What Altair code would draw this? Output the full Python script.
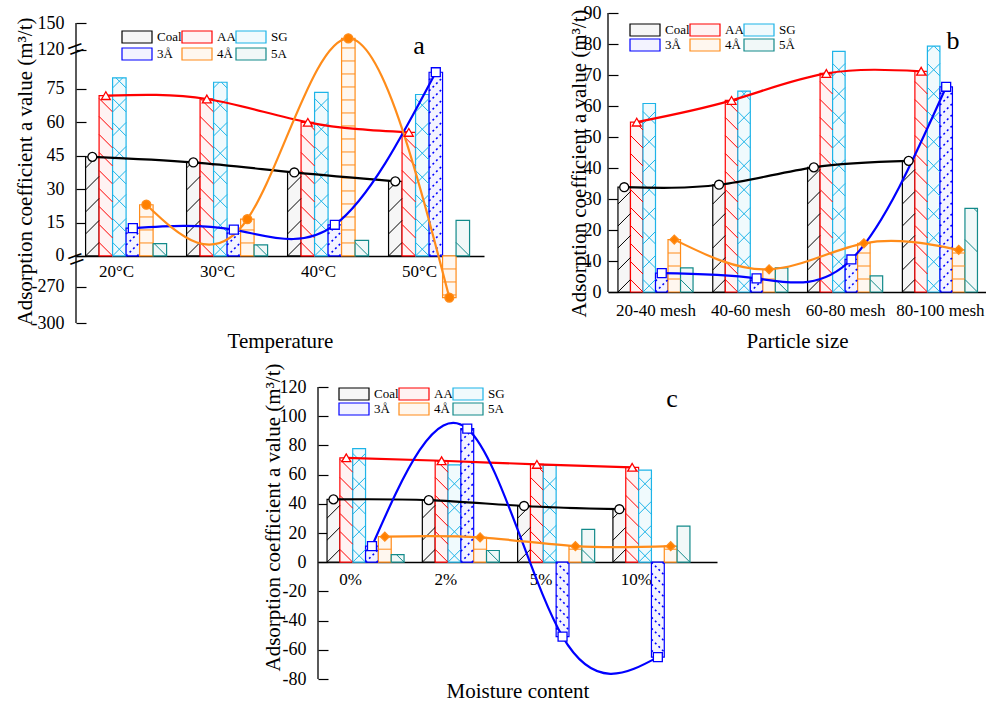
import json
import math
import altair as alt
import pandas as pd

FONT = "Liberation Serif"
YTITLE = "Adsorption coefficient a value (m³/t)"

SERIES_AC = ["Coal", "AA", "SG", "3Å", "4Å", "5A"]
SERIES_B = ["Coal", "AA", "SG", "3Å", "4Å", "5Å"]
STROKES = ["#000000", "#FF0000", "#1DB4E8", "#0000FF", "#FF8C1A", "#138A8A"]
FILLS = ["#f6f6f6", "#fff3f3", "#f0fafd", "#f3f3ff", "#fff7ef", "#f1f8f8"]
ORANGE = "#FF8000"
# hatch style per series position: (kind, spacing px, dash)
HATCH = [
    [("fwd", 22, None)],
    [("back", 18, None)],
    [("fwd", 24, None), ("back", 24, None)],
    [("fwd", 11, [2, 3])],
    [("horiz", 13, None)],
    [("back", 40, None)],
]

# ---------------- panel a : temperature ----------------
a_categories = ["20°C", "30°C", "40°C", "50°C"]
a_coal = [44.5, 42.0, 37.5, 33.5]
a_aa = [72.0, 70.5, 60.0, 55.5]
a_sg = [80.0, 78.0, 73.5, 72.5]
a_3a = [12.5, 11.8, 14.0, 82.5]
a_4a = [23.0, 16.5, 133.0, -279.0]
a_5a = [5.5, 5.0, 7.0, 16.0]

# ---------------- panel b : particle size ----------------
b_categories = ["20-40 mesh", "40-60 mesh", "60-80 mesh", "80-100 mesh"]
b_coal = [33.8, 34.6, 40.2, 42.3]
b_aa = [54.8, 61.8, 70.5, 71.2]
b_sg = [60.8, 64.8, 77.6, 79.3]
b_3a = [6.1, 4.4, 10.5, 66.2]
b_4a = [16.9, 7.3, 15.7, 13.6]
b_5a = [7.8, 7.8, 5.2, 27.0]

# ---------------- panel c : moisture content ----------------
c_categories = ["0%", "2%", "5%", "10%"]
c_coal = [43.0, 42.5, 38.5, 36.3]
c_aa = [71.5, 69.5, 67.0, 65.0]
c_sg = [77.8, 66.6, 66.3, 63.0]
c_3a = [11.0, 91.5, -51.0, -65.0]
c_4a = [17.5, 17.0, 11.0, 11.0]
c_5a = [5.2, 8.0, 22.5, 24.7]

LINE_SERIES = ["Coal", "AA", "3Å", "4Å"]


def hatch_layers(base, P, xs, ys, xaxis, yaxis, series):
    kx = P["w"] / (P["xdom"][1] - P["xdom"][0])
    ky = P["h"] / (P["ydom"][1] - P["ydom"][0])
    W = P["bw"] * kx
    out = []
    for si, name in enumerate(series):
        for kind, s, dash in HATCH[si]:
            h = base.transform_filter(f"datum.si == {si}").transform_calculate(
                H=f"abs(datum.d) * {ky}"
            ).transform_calculate(sg="datum.d < 0 ? -1 : 1")
            if kind == "horiz":
                h = h.transform_calculate(
                    ks=f"sequence(1, floor((datum.H - 1) / {s}) + 1)"
                ).transform_flatten(["ks"]).transform_calculate(
                    hx1="datum.xl"
                ).transform_calculate(
                    hx2="datum.xr"
                ).transform_calculate(
                    hy1=f"datum.sg * datum.ks * {s} / {ky}"
                ).transform_calculate(hy2="datum.hy1")
            else:
                h = h.transform_calculate(
                    ks=f"sequence({-math.ceil(W / s)}, floor(datum.H / {s}) + 1)"
                ).transform_flatten(["ks"]).transform_calculate(
                    y0=f"datum.ks * {s}"
                ).transform_calculate(
                    ya="max(datum.y0, 0)"
                ).transform_calculate(
                    yb=f"min(datum.y0 + {W}, datum.H)"
                ).transform_filter("datum.yb > datum.ya + 0.5")
                if kind == "fwd":
                    h = h.transform_calculate(
                        hx1=f"datum.xl + (datum.ya - datum.y0) / {kx}"
                    ).transform_calculate(hx2=f"datum.xl + (datum.yb - datum.y0) / {kx}")
                else:
                    h = h.transform_calculate(
                        hx1=f"datum.xr - (datum.ya - datum.y0) / {kx}"
                    ).transform_calculate(hx2=f"datum.xr - (datum.yb - datum.y0) / {kx}")
                h = h.transform_calculate(
                    hy1=f"datum.sg * datum.ya / {ky}"
                ).transform_calculate(hy2=f"datum.sg * datum.yb / {ky}")
            mk = dict(color=STROKES[si], strokeWidth=1.0)
            if dash:
                mk["strokeDash"] = dash
                mk["strokeWidth"] = 1.6
            out.append(
                h.mark_rule(**mk).encode(
                    x=alt.X("hx1:Q", scale=xs, axis=xaxis), x2="hx2:Q",
                    y=alt.Y("hy1:Q", scale=ys, axis=yaxis), y2="hy2:Q",
                )
            )
    return out


def make_panel(cats, series, values, P):
    rows = []
    for si, (name, vals) in enumerate(zip(series, values)):
        for ci, v in enumerate(vals):
            rows.append({"cat": cats[ci], "ci": ci, "series": name, "si": si, "value": v})
    df = pd.DataFrame(rows)
    bw = P["bw"]
    base = alt.Chart(df).transform_calculate(
        xc=f"datum.ci + {P['shift']} + (datum.si - 2.5) * {bw}"
    ).transform_calculate(
        d=P["dexpr"]
    ).transform_calculate(
        xl=f"datum.xc - {bw / 2}"
    ).transform_calculate(
        xr=f"datum.xc + {bw / 2}"
    )
    xs = alt.Scale(domain=P["xdom"], nice=False, zero=False)
    ys = alt.Scale(domain=P["ydom"], nice=False, zero=False)
    fill_s = alt.Scale(domain=series, range=FILLS)
    stroke_s = alt.Scale(domain=series, range=STROKES)
    legend = alt.Legend(
        orient="none", legendX=P["legX"] + 6, legendY=P["legY"], columns=3,
        direction="horizontal", title=None, gridAlign="none",
        symbolType="M-2.5,-1H2.5V1H-2.5Z", symbolSize=144, symbolStrokeWidth=1.2,
        labelFont=FONT, labelFontSize=13, labelColor="black", labelOffset=13,
        columnPadding=-3, rowPadding=P["legRowPad"], padding=0, symbolOpacity=1,
    )
    arr = json.dumps(cats, ensure_ascii=False)
    xaxis = alt.Axis(
        values=[0, 1, 2, 3], labelExpr=f"{arr}[round(datum.value)]", ticks=False,
        domain=True, domainColor="black", domainWidth=1.3, offset=P["xoff"],
        labelPadding=P["xlabpad"], labelFontSize=17, labelFont=FONT, labelColor="black",
        labelFlush=False, labelOverlap=False, grid=False,
        title=P["xtitle"], titleFontSize=21, titleFont=FONT, titleFontWeight="normal",
        titleColor="black", titleY=P["xtitleY"], titleBaseline="middle",
    )
    yaxis = alt.Axis(
        values=P["yticks"], labelExpr=P["ylabexpr"], domain=False, offset=-10,
        tickSize=10, tickWidth=1.2, tickColor="black", labelPadding=P["ylabpad"],
        labelFontSize=18, labelFont=FONT, labelColor="black", grid=False,
        labelOverlap=False, labelFlush=False,
        title=YTITLE, titleFontSize=21, titleFont=FONT, titleFontWeight="normal",
        titleColor="black", titleX=P["titleX"], titleY=P["titleY"],
        titleBaseline="middle", titleAlign="center", titleAngle=270,
    )
    bars = base.mark_rect(strokeWidth=1.2).encode(
        x=alt.X("xl:Q", scale=xs, axis=xaxis),
        x2="xr:Q",
        y=alt.Y("d:Q", scale=ys, axis=yaxis),
        y2=alt.Y2Datum(0),
        fill=alt.Fill("series:N", scale=fill_s, legend=legend),
        stroke=alt.Stroke("series:N", scale=stroke_s, legend=legend),
    )
    hatches = hatch_layers(base, P, xs, ys, xaxis, yaxis, series)
    sel = base.transform_filter(alt.FieldOneOfPredicate(field="series", oneOf=LINE_SERIES))
    lines = sel.mark_line(interpolate="natural", strokeWidth=2.2).encode(
        x=alt.X("xc:Q", scale=xs, axis=xaxis),
        y=alt.Y("d:Q", scale=ys, axis=yaxis),
        stroke=alt.Stroke("series:N", scale=stroke_s, legend=None),
        order="ci:Q",
    )
    points = sel.mark_point(filled=True, size=80, strokeWidth=1.3, opacity=1).encode(
        x=alt.X("xc:Q", scale=xs, axis=xaxis),
        y=alt.Y("d:Q", scale=ys, axis=yaxis),
        shape=alt.Shape("series:N", scale=alt.Scale(domain=LINE_SERIES, range=P["shapes"]), legend=None),
        stroke=alt.Stroke("series:N", scale=stroke_s, legend=None),
        fill=alt.condition("datum.series == '4Å'", alt.value(ORANGE), alt.value("white")),
    )
    one = pd.DataFrame({"z": [0]})
    yline = alt.Chart(one).mark_rule(color="black", strokeWidth=1.3).encode(
        x=alt.value(0),
        y=alt.YDatum(P["yaxis_lo"], scale=ys, axis=yaxis),
        y2=alt.Y2Datum(P["yaxis_hi"]),
    )
    letter = alt.Chart(pd.DataFrame({"t": [P["letter"]]})).mark_text(
        font=FONT, fontSize=26, color="black"
    ).encode(x=alt.value(P["letX"]), y=alt.value(P["letY"]), text="t:N")
    layers = [bars] + hatches + [lines, points, yline, letter]
    for bd in P.get("breaks", []):
        layers.append(
            alt.Chart(one).mark_text(text="=", fontSize=30, angle=340, color="black", font=FONT).encode(
                x=alt.value(0), y=alt.YDatum(bd, scale=ys, axis=yaxis)
            )
        )
    return alt.layer(*layers).properties(width=P["w"], height=P["h"])


PA = dict(
    bw=0.1337, shift=0.1, xdom=[-0.396, 3.644], ydom=[-30.1, 109.1],
    dexpr="datum.value >= 100 ? 92.5 + (datum.value - 120) * 0.403 : (datum.value <= -100 ? -13.8 + (datum.value + 270) * 0.543 : datum.value)",
    yticks=[-30.1, -13.8, 0, 15, 30, 45, 60, 75, 92.5, 104.6],
    ylabexpr="datum.value < -20 ? '-300' : datum.value < -5 ? '-270' : datum.value > 100 ? '150' : datum.value > 90 ? '120' : '' + datum.value",
    xoff=-67, xlabpad=7, xtitle="Temperature", xtitleY=85,
    ylabpad=12, titleX=-61, titleY=158,
    legX=48, legY=17, legRowPad=-1, shapes=["circle", "triangle-up", "square", "circle"],
    yaxis_lo=-30.1, yaxis_hi=104.6, letter="a", letX=343, letY=33,
    w=408, h=310, breaks=[92.5, -1.8],
)
PB = dict(
    bw=0.132, shift=0.0, xdom=[-0.501, 3.486], ydom=[0, 90],
    dexpr="datum.value",
    yticks=[0, 10, 20, 30, 40, 50, 60, 70, 80, 90],
    ylabexpr="'' + datum.value",
    xoff=0, xlabpad=10, xtitle="Particle size", xtitleY=49,
    ylabpad=7, titleX=-39, titleY=150,
    legX=24, legY=10, legRowPad=-3, shapes=["circle", "triangle-up", "square", "diamond"],
    yaxis_lo=0, yaxis_hi=90, letter="b", letX=345, letY=28,
    w=378, h=279,
)
PC = dict(
    bw=0.1347, shift=0.163, xdom=[-0.336, 3.851], ydom=[-80, 120],
    dexpr="datum.value",
    yticks=[-80, -60, -40, -20, 0, 20, 40, 60, 80, 100, 120],
    ylabexpr="'' + datum.value",
    xoff=-117, xlabpad=9, xtitle="Moisture content", xtitleY=129,
    ylabpad=12, titleX=-55, titleY=130,
    legX=23, legY=0, legRowPad=-3, shapes=["circle", "triangle-up", "square", "diamond"],
    yaxis_lo=-80, yaxis_hi=120, letter="c", letX=354, letY=12,
    w=399, h=292,
)

pa = make_panel(a_categories, SERIES_AC, [a_coal, a_aa, a_sg, a_3a, a_4a, a_5a], PA)
pb = make_panel(b_categories, SERIES_B, [b_coal, b_aa, b_sg, b_3a, b_4a, b_5a], PB)
pc = make_panel(c_categories, SERIES_AC, [c_coal, c_aa, c_sg, c_3a, c_4a, c_5a], PC)

spacer = alt.Chart(pd.DataFrame({"z": [0]})).mark_point(opacity=0).encode(
    x=alt.value(0), y=alt.value(0)
).properties(width=242, height=10)

RES = dict(x="independent", y="independent", fill="independent", stroke="independent", shape="independent")

top = alt.hconcat(pa, pb, spacing=124, bounds="flush").resolve_scale(**RES).resolve_legend(fill="independent", stroke="independent")
bottom = alt.hconcat(spacer, pc, spacing=0, bounds="flush").resolve_scale(**RES).resolve_legend(fill="independent", stroke="independent")
chart = alt.vconcat(top, bottom, spacing=12).resolve_scale(**RES).resolve_legend(
    fill="independent", stroke="independent"
).configure(
    padding={"left": 13, "top": 4, "right": 0, "bottom": 0}
).configure_axis(labelOverlap=False).configure_view(stroke=None)

chart.save("out.html", embed_options={"renderer": "svg", "actions": False})
